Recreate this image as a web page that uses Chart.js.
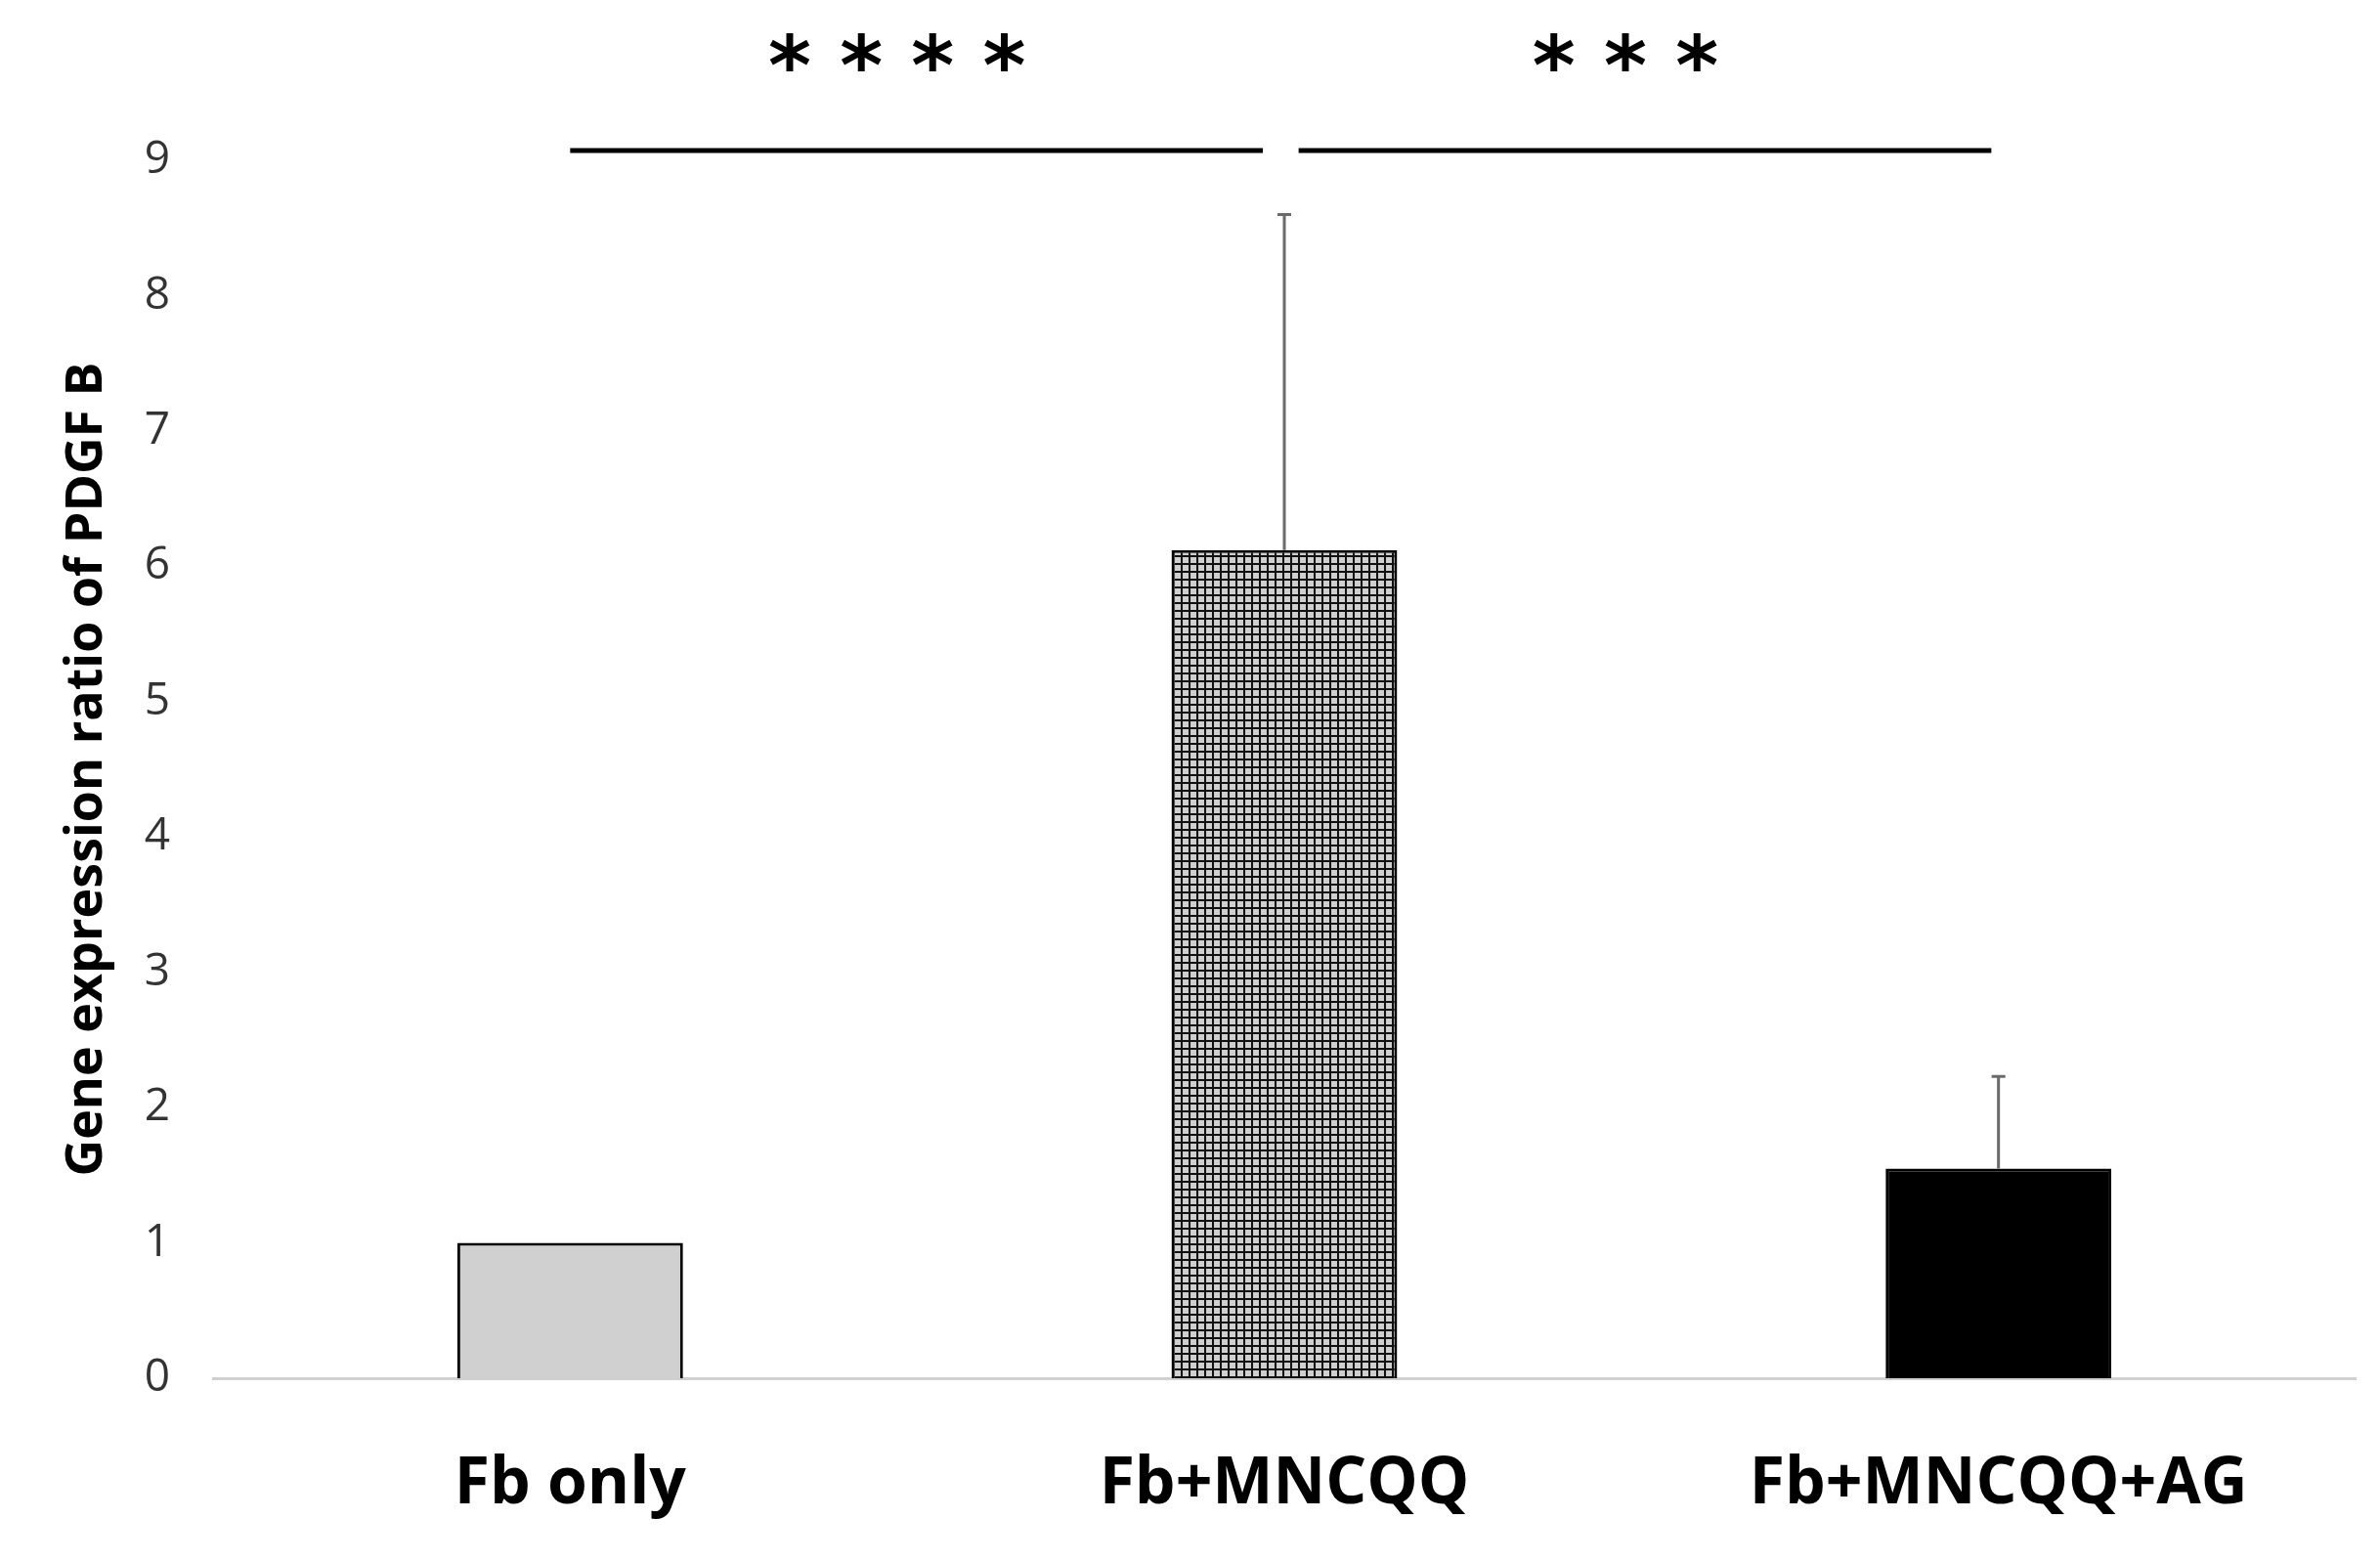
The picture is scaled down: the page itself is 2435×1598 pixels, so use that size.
<!DOCTYPE html>
<html>
<head>
<meta charset="utf-8">
<script src="https://cdn.jsdelivr.net/npm/chart.js@4"></script>
<style>
  html, body { margin: 0; padding: 0; background: #fff; }
  #wrap { width: 2435px; height: 1598px; }
</style>
</head>
<body>
<div id="wrap"><canvas id="myChart"></canvas></div>
<script>
const categories = ['Fb only', 'Fb+MNCQQ', 'Fb+MNCQQ+AG'];
const means = [1.0, 6.12, 1.55];
const errorsUp = [0.0, 2.48, 0.68];
const yTicks = [0, 1, 2, 3, 4, 5, 6, 7, 8, 9];
const significance = [
  { from: 0, to: 0.97, label: '* * * *' },
  { from: 1.02, to: 1.99, label: '* * *' }
];

function gridPattern() {
  const c = document.createElement('canvas');
  c.width = 8; c.height = 8;
  const g = c.getContext('2d');
  g.fillStyle = '#cfcfcf';
  g.fillRect(0, 0, 8, 8);
  g.fillStyle = '#111';
  g.fillRect(0, 0, 8, 2);
  g.fillRect(0, 0, 2, 8);
  return g.createPattern(c, 'repeat');
}

const ctx = document.getElementById('myChart').getContext('2d');

const errorBars = {
  id: 'errorBars',
  afterDatasetsDraw(chart) {
    const meta = chart.getDatasetMeta(0);
    const y = chart.scales.y;
    const c = chart.ctx;
    c.save();
    c.strokeStyle = '#6b6b6b';
    c.lineWidth = 3;
    meta.data.forEach((bar, i) => {
      if (!errorsUp[i]) return;
      const top = y.getPixelForValue(means[i] + errorsUp[i]);
      c.beginPath();
      c.moveTo(bar.x, bar.y);
      c.lineTo(bar.x, top);
      c.moveTo(bar.x - 7, top);
      c.lineTo(bar.x + 7, top);
      c.stroke();
    });
    c.restore();
  }
};

const sigMarks = {
  id: 'sigMarks',
  afterDraw(chart) {
    const x = chart.scales.x;
    const y = chart.scales.y;
    const c = chart.ctx;
    c.save();
    c.strokeStyle = '#000';
    c.lineWidth = 5;
    c.fillStyle = '#000';
    c.font = 'bold 84px "DejaVu Sans"';
    c.textAlign = 'center';
    c.textBaseline = 'middle';
    const lineY = y.getPixelForValue(9) - 10;
    significance.forEach(s => {
      const x1 = x.getPixelForValue(s.from);
      const x2 = x.getPixelForValue(s.to);
      c.beginPath();
      c.moveTo(x1, lineY);
      c.lineTo(x2, lineY);
      c.stroke();
      c.fillText(s.label, (x1 + x2) / 2 - 20, lineY - 80);
    });
    c.restore();
  }
};

new Chart(ctx, {
  type: 'bar',
  data: {
    labels: categories,
    datasets: [{
      data: means,
      backgroundColor: ['#d0d0d0', gridPattern(), '#000'],
      borderColor: '#000',
      borderWidth: 3,
      categoryPercentage: 1,
      barPercentage: 0.316
    }]
  },
  options: {
    responsive: true,
    maintainAspectRatio: false,
    animation: false,
    layout: { padding: { top: 164, right: 25, left: 0, bottom: 0 } },
    plugins: { legend: { display: false }, tooltip: { enabled: false } },
    scales: {
      x: {
        grid: { display: false },
        border: { color: '#d0d0d0', width: 3 },
        ticks: {
          color: '#000',
          padding: 62,
          font: { family: 'Open Sans', size: 66, weight: 'bold' }
        },
        afterFit(s) { s.height = 188; }
      },
      y: {
        min: 0,
        max: 9,
        afterBuildTicks(s) { s.ticks = yTicks.map(v => ({ value: v })); },
        grid: { display: false },
        border: { display: false },
        ticks: {
          color: '#333',
          padding: 36,
          font: { family: 'Open Sans', size: 46 }
        },
        title: {
          display: true,
          text: 'Gene expression ratio of PDGF B',
          color: '#000',
          padding: { top: 58, bottom: 0 },
          font: { family: 'Open Sans', size: 52, weight: 'bold' }
        },
        afterFit(s) { s.width = 218; }
      }
    }
  },
  plugins: [errorBars, sigMarks]
});
</script>
</body>
</html>
